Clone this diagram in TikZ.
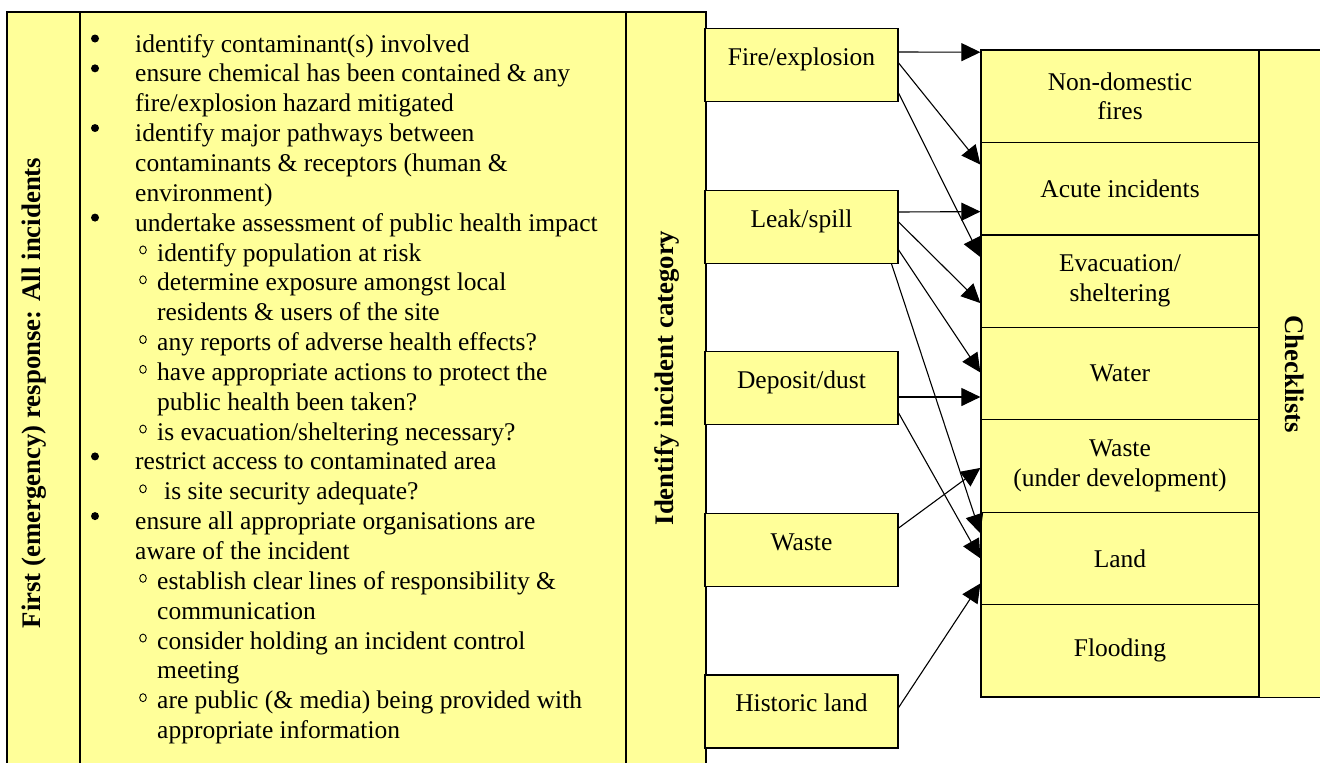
\documentclass[tikz,border=0pt]{standalone}
\usepackage{fontspec}
\setmainfont{Liberation Serif}
\usetikzlibrary{arrows.meta}
\definecolor{paleyellow}{HTML}{FFFF99}

\begin{document}
\begin{tikzpicture}[x=1pt,y=-1pt,
  every node/.style={font=\fontsize{25.5}{29.8}\selectfont},
  box/.style={draw, line width=1.2pt, fill=paleyellow},
  catbox/.style={box, inner sep=0pt, minimum width=193pt, minimum height=73pt, text height=18pt, text depth=18pt},
  listbox/.style={box, inner sep=0pt, minimum width=278pt, minimum height=92.4pt, align=center},
  txt/.style={anchor=base west, inner sep=0pt},
  title/.style={anchor=base, inner sep=0pt, font=\fontsize{26.8}{30}\selectfont\bfseries},
  link/.style={line width=1.1pt, -{Triangle[length=19pt,width=18pt]}}]
\useasboundingbox (0,0) rectangle (1320,763);
\path[box] (7,12) rectangle (80,775);
\path[box] (80,12) rectangle (626,775);
\path[box] (626,12) rectangle (706,775);
\node[title, rotate=90] (firsttitle) at (40,393) {First (emergency) response: All incidents};
\node[title, rotate=90] (idtitle) at (673,378) {Identify incident category};
\foreach \i in {0,1,3,6,14,16}
  \fill (95,{52+29.85*\i-13.5}) circle (4pt);
\foreach \i in {7,8,10,11,13,15,18,20,22}
  \draw[line width=0.9pt] (143,{52+29.85*\i-11}) ellipse (3.3pt and 4pt);
\node[txt] (l0) at (135,52) {identify contaminant(s) involved};
\node[txt] (l1) at (135,81.9) {ensure chemical has been contained \& any};
\node[txt] (l2) at (135,111.7) {fire/explosion hazard mitigated};
\node[txt] (l3) at (135,141.6) {identify major pathways between};
\node[txt] (l4) at (135,171.4) {contaminants \& receptors (human \&};
\node[txt] (l5) at (135,201.3) {environment)};
\node[txt] (l6) at (135,231.1) {undertake assessment of public health impact};
\node[txt] (l7) at (157,261) {identify population at risk};
\node[txt] (l8) at (157,290.8) {determine exposure amongst local};
\node[txt] (l9) at (157,320.7) {residents \& users of the site};
\node[txt] (l10) at (157,350.5) {any reports of adverse health effects?};
\node[txt] (l11) at (157,380.4) {have appropriate actions to protect the};
\node[txt] (l12) at (157,410.2) {public health been taken?};
\node[txt] (l13) at (157,440.1) {is evacuation/sheltering necessary?};
\node[txt] (l14) at (135,469.9) {restrict access to contaminated area};
\node[txt] (l15) at (164,499.8) {is site security adequate?};
\node[txt] (l16) at (135,529.6) {ensure all appropriate organisations are};
\node[txt] (l17) at (135,559.5) {aware of the incident};
\node[txt] (l18) at (157,589.3) {establish clear lines of responsibility \&};
\node[txt] (l19) at (157,619.2) {communication};
\node[txt] (l20) at (157,649) {consider holding an incident control};
\node[txt] (l21) at (157,678.9) {meeting};
\node[txt] (l22) at (157,708.7) {are public (\& media) being provided with};
\node[txt] (l23) at (157,738.6) {appropriate information};
\node[catbox] (fire) at (801.5,65) {Fire/explosion};
\node[catbox] (leak) at (801.5,227) {Leak/spill};
\node[catbox] (deposit) at (801.5,388) {Deposit/dust};
\node[catbox] (waste) at (801.5,550) {Waste};
\node[catbox] (historic) at (801.5,711.5) {Historic land};
\path[box] (1259,50) rectangle (1330,697.4);
\node[title, rotate=-90] (cltitle) at (1285,374) {Checklists};
\node[listbox] (nondom) at (1120,96.2) {Non-domestic\\fires};
\node[listbox] (acute) at (1120,188.6) {Acute incidents};
\node[listbox] (evac) at (1120,281.1) {Evacuation/\\sheltering};
\node[listbox] (water) at (1120,373.5) {Water};
\node[listbox] (wastecl) at (1120,465.9) {Waste\\(under development)};
\node[listbox] (land) at (1120,558.4) {Land};
\node[listbox] (flood) at (1120,650.8) {Flooding};
\draw[link] ([yshift=13pt]fire.east) -- ([yshift=44pt]nondom.west);
\draw[link] ([yshift=2pt]fire.east) -- ([yshift=24pt]acute.west);
\draw[link] ([yshift=-28pt]fire.east) -- ([yshift=24pt]evac.west);
\draw[link] ([yshift=15pt]leak.east) -- ([yshift=-23pt]acute.west);
\draw[link] ([yshift=5pt]leak.east) -- ([yshift=-22pt]evac.west);
\draw[link] ([yshift=-23pt]leak.east) -- ([yshift=1pt]water.west);
\draw[link] ([xshift=-7pt]leak.south east) -- ([yshift=25pt]land.west);
\draw[link] ([yshift=-9pt]deposit.east) -- ([yshift=-23.5pt]water.west);
\draw[link] ([yshift=-25pt]deposit.east) -- (land.west);
\draw[link] ([yshift=22pt]waste.east) -- ([yshift=-2pt]wastecl.west);
\draw[link] ([yshift=4pt]historic.east) -- ([yshift=-25pt]land.west);
\end{tikzpicture}
\end{document}
